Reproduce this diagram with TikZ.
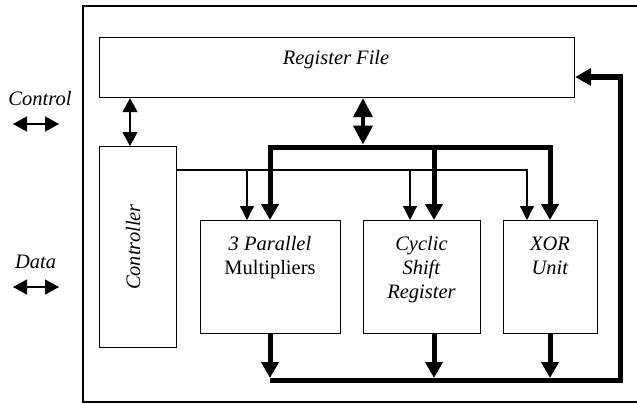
\documentclass[tikz,border=0pt]{standalone}
\usepackage{fontspec}
\setmainfont{Liberation Serif}
\usetikzlibrary{arrows.meta}
\begin{document}
\begin{tikzpicture}[x=1pt,y=-1pt,
  box/.style={draw, line width=1.2pt, inner sep=0pt, anchor=north west},
  lbl/.style={font=\fontsize{20.5}{24}\selectfont, inner sep=0pt, align=center},
  thinline/.style={line width=1.2pt},
  thinar/.style={line width=1.2pt, -{Triangle[length=14pt,width=14pt]}},
  dthin/.style={line width=1.2pt, {Triangle[length=14pt,width=15pt]}-{Triangle[length=14pt,width=15pt]}},
  dreg/.style={line width=4pt, {Triangle[length=19pt,width=19pt]}-{Triangle[length=19pt,width=19pt]}},
  bus/.style={line width=5pt},
  busar/.style={line width=5pt, -{Triangle[length=16pt,width=17pt]}},
  dbusar/.style={line width=5pt, {Triangle[length=16pt,width=17pt]}-{Triangle[length=16pt,width=17pt]}},
]
\useasboundingbox (0,0) rectangle (637,404);
% outer frame
\draw[line width=1.3pt] (640,6) -- (83,6) -- (83,402) -- (640,402);

% helper coordinates
\coordinate (x1) at (130,0);
\coordinate (x2) at (247,0);
\coordinate (x3) at (270,0);
\coordinate (x9) at (363,0);
\coordinate (x4) at (410,0);
\coordinate (x5) at (434,0);
\coordinate (x6) at (527,0);
\coordinate (x7) at (550,0);
\coordinate (x8) at (620,0);
\coordinate (ybus) at (0,147);
\coordinate (yctl) at (0,170);
\coordinate (ybot) at (0,380);
\coordinate (yfb) at (0,77);

% boxes
\node[box, minimum width=475pt, minimum height=60pt] (reg) at (99,37) {};
\node[lbl, anchor=base] (regt) at (336,65) {\textit{Register File}};
\node[box, minimum width=77pt, minimum height=201pt] (ctrl) at (99,146) {};
\node[lbl, rotate=90, anchor=base] (ctrlt) at (140,247) {\textit{Controller}};
\node[box, minimum width=140pt, minimum height=113pt] (mul) at (200,220) {};
\node[lbl, anchor=base] (mult) at (270,274) {\textit{3 Parallel}\\Multipliers};
\node[box, minimum width=117pt, minimum height=113pt] (csr) at (363,220) {};
\node[lbl, anchor=base] (csrt) at (421.5,298) {\textit{Cyclic}\\\textit{Shift}\\\textit{Register}};
\node[box, minimum width=94pt, minimum height=113pt] (xor) at (503,220) {};
\node[lbl, anchor=base] (xort) at (550,274) {\textit{XOR}\\\textit{Unit}};

% external labels
\node[lbl, anchor=base] (ctlt) at (40,105) {\textit{Control}};
\coordinate (cA) at (13,124);
\coordinate (cB) at (59,124);
\draw[dthin] (cA) -- (cB);
\node[lbl, anchor=base] (datat) at (35.5,268) {\textit{Data}};
\coordinate (dA) at (13,287);
\coordinate (dB) at (59,287);
\draw[dthin] (dA) -- (dB);

% controller <-> register file
\draw[dthin] (reg.south -| x1) -- (ctrl.north -| x1);
% register file <-> bus
\draw[dreg, shorten >=2.5pt] (reg.south -| x9) -- (x9 |- ybus);

% control lines
\draw[thinar] (ctrl.east |- yctl) -- (x6 |- yctl) -- (xor.north -| x6);
\draw[thinar] (x2 |- yctl) -- (mul.north -| x2);
\draw[thinar] (x4 |- yctl) -- (csr.north -| x4);

% thick data bus
\draw[dbusar] (mul.north -| x3) -- (x3 |- ybus) -- (x7 |- ybus) -- (xor.north -| x7);
\draw[busar] (x5 |- ybus) -- (csr.north -| x5);

% outputs
\draw[busar, shorten >=2pt] (mul.south -| x3) -- (x3 |- ybot);
\draw[busar, shorten >=2pt] (csr.south -| x5) -- (x5 |- ybot);
\draw[busar, shorten >=2pt] (xor.south -| x7) -- (x7 |- ybot);
\draw[busar] (x3 |- ybot) -- (x8 |- ybot) -- (x8 |- yfb) -- (reg.east |- yfb);
\end{tikzpicture}
\end{document}
